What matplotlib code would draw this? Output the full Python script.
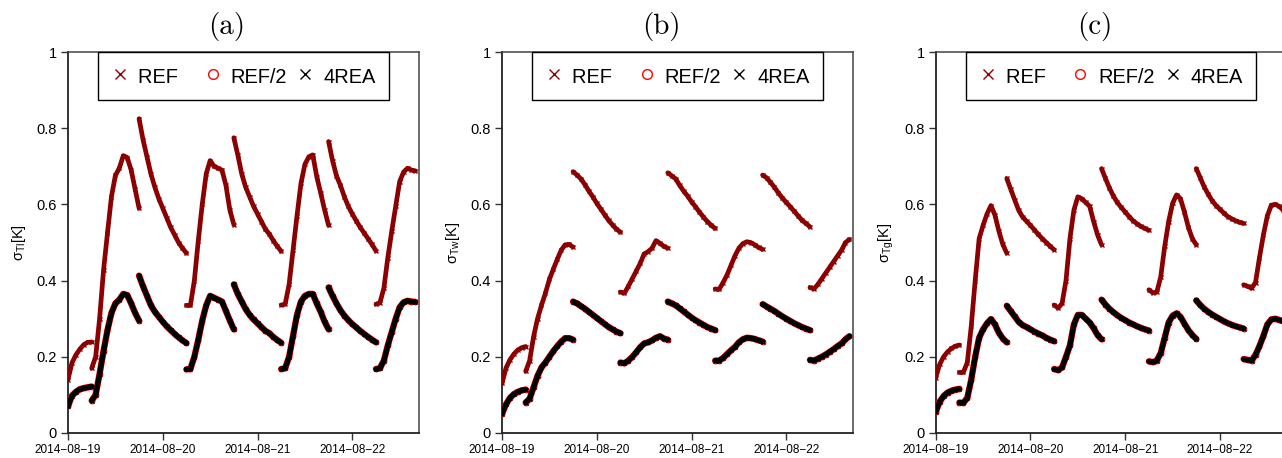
import matplotlib
matplotlib.use("Agg")
import matplotlib.pyplot as plt
import numpy as np
from matplotlib.lines import Line2D

plt.rcParams["font.family"] = ["Liberation Sans", "DejaVu Sans"]
plt.rcParams["mathtext.fontset"] = "custom"
plt.rcParams["mathtext.rm"] = "Liberation Sans"
plt.rcParams["mathtext.it"] = "Liberation Sans:italic"

# assimilation windows: start hour (from 2014-08-19 00 UTC), hourly values inside
seg_start_hours = [0, 6, 18, 30, 42, 54, 66, 78]
day_ticks = [0, 24, 48, 72]
day_labels = ["2014\u221208\u221219", "2014\u221208\u221220", "2014\u221208\u221221", "2014\u221208\u221222"]
y_ticks = [0, 0.2, 0.4, 0.6, 0.8, 1.0]
y_labels = ["0", "0.2", "0.4", "0.6", "0.8", "1"]
panel_titles = ["(a)", "(b)", "(c)"]
panel_ylabels = ["Tl", "Tw", "Tg"]
legend_labels = ["REF   ", "REF/2", "4REA"]

tl_ref = [
    [0.14, 0.184, 0.205, 0.22, 0.232, 0.238, 0.239],
    [0.17, 0.20, 0.30, 0.427, 0.525, 0.62, 0.676, 0.695, 0.728, 0.723, 0.69, 0.64, 0.59],
    [0.825, 0.77, 0.725, 0.68, 0.645, 0.615, 0.59, 0.565, 0.54, 0.52, 0.50, 0.485, 0.472],
    [0.335, 0.335, 0.40, 0.505, 0.60, 0.68, 0.715, 0.70, 0.695, 0.69, 0.65, 0.585, 0.547],
    [0.775, 0.73, 0.68, 0.645, 0.62, 0.595, 0.575, 0.555, 0.535, 0.522, 0.505, 0.49, 0.477],
    [0.336, 0.338, 0.39, 0.48, 0.57, 0.655, 0.705, 0.725, 0.73, 0.673, 0.63, 0.585, 0.545],
    [0.765, 0.715, 0.675, 0.65, 0.62, 0.595, 0.575, 0.557, 0.54, 0.525, 0.51, 0.495, 0.478],
    [0.338, 0.342, 0.38, 0.46, 0.53, 0.595, 0.66, 0.685, 0.695, 0.69, 0.688],
]
tl_half = [
    [0.07, 0.098, 0.108, 0.115, 0.118, 0.12, 0.122],
    [0.085, 0.10, 0.155, 0.215, 0.27, 0.315, 0.34, 0.35, 0.365, 0.362, 0.34, 0.315, 0.295],
    [0.413, 0.385, 0.36, 0.335, 0.318, 0.305, 0.292, 0.28, 0.27, 0.26, 0.251, 0.243, 0.236],
    [0.167, 0.168, 0.20, 0.245, 0.295, 0.335, 0.36, 0.355, 0.35, 0.345, 0.32, 0.295, 0.272],
    [0.39, 0.365, 0.345, 0.325, 0.31, 0.298, 0.288, 0.278, 0.268, 0.262, 0.252, 0.244, 0.237],
    [0.168, 0.17, 0.2, 0.255, 0.31, 0.345, 0.36, 0.365, 0.365, 0.34, 0.318, 0.292, 0.272],
    [0.382, 0.36, 0.34, 0.322, 0.308, 0.296, 0.286, 0.277, 0.268, 0.26, 0.252, 0.245, 0.238],
    [0.168, 0.17, 0.19, 0.23, 0.265, 0.3, 0.33, 0.343, 0.347, 0.345, 0.344],
]

tw_ref = [
    [0.13, 0.17, 0.192, 0.207, 0.218, 0.224, 0.227],
    [0.162, 0.19, 0.253, 0.30, 0.335, 0.367, 0.403, 0.43, 0.456, 0.48, 0.494, 0.495, 0.488],
    [0.686, 0.677, 0.667, 0.652, 0.635, 0.62, 0.603, 0.588, 0.573, 0.558, 0.546, 0.535, 0.527],
    [0.37, 0.367, 0.385, 0.405, 0.425, 0.445, 0.47, 0.476, 0.485, 0.505, 0.498, 0.49, 0.485],
    [0.683, 0.675, 0.667, 0.65, 0.635, 0.622, 0.607, 0.594, 0.58, 0.567, 0.555, 0.545, 0.537],
    [0.378, 0.377, 0.395, 0.415, 0.44, 0.465, 0.485, 0.497, 0.502, 0.5, 0.494, 0.487, 0.482],
    [0.677, 0.67, 0.658, 0.645, 0.63, 0.617, 0.605, 0.594, 0.582, 0.57, 0.558, 0.55, 0.541],
    [0.382, 0.378, 0.39, 0.405, 0.42, 0.435, 0.45, 0.465, 0.48, 0.5, 0.508],
]
tw_half = [
    [0.05, 0.075, 0.092, 0.102, 0.108, 0.112, 0.114],
    [0.08, 0.09, 0.12, 0.15, 0.172, 0.185, 0.2, 0.215, 0.228, 0.24, 0.249, 0.249, 0.245],
    [0.345, 0.34, 0.333, 0.326, 0.318, 0.31, 0.302, 0.294, 0.286, 0.278, 0.272, 0.266, 0.262],
    [0.185, 0.183, 0.19, 0.2, 0.212, 0.225, 0.235, 0.238, 0.243, 0.25, 0.254, 0.248, 0.245],
    [0.345, 0.34, 0.335, 0.327, 0.319, 0.311, 0.303, 0.296, 0.29, 0.284, 0.278, 0.274, 0.27],
    [0.19, 0.19, 0.197, 0.207, 0.217, 0.226, 0.238, 0.246, 0.25, 0.249, 0.247, 0.243, 0.24],
    [0.338, 0.332, 0.326, 0.32, 0.313, 0.306, 0.3, 0.294, 0.288, 0.283, 0.278, 0.274, 0.27],
    [0.192, 0.19, 0.195, 0.2, 0.206, 0.213, 0.22, 0.228, 0.235, 0.246, 0.254],
]

tg_ref = [
    [0.145, 0.18, 0.2, 0.213, 0.222, 0.228, 0.231],
    [0.159, 0.159, 0.185, 0.28, 0.4, 0.51, 0.545, 0.575, 0.597, 0.572, 0.53, 0.495, 0.472],
    [0.668, 0.64, 0.612, 0.585, 0.567, 0.556, 0.545, 0.533, 0.521, 0.51, 0.5, 0.49, 0.481],
    [0.336, 0.328, 0.34, 0.4, 0.51, 0.585, 0.62, 0.615, 0.605, 0.595, 0.555, 0.52, 0.494],
    [0.694, 0.668, 0.643, 0.622, 0.605, 0.592, 0.58, 0.568, 0.557, 0.549, 0.542, 0.537, 0.532],
    [0.376, 0.368, 0.37, 0.41, 0.49, 0.555, 0.603, 0.625, 0.615, 0.58, 0.54, 0.51, 0.494],
    [0.694, 0.67, 0.646, 0.627, 0.61, 0.597, 0.587, 0.577, 0.568, 0.562, 0.557, 0.553, 0.55],
    [0.389, 0.385, 0.38, 0.395, 0.46, 0.52, 0.57, 0.598, 0.6, 0.595, 0.585],
]
tg_half = [
    [0.055, 0.082, 0.097, 0.106, 0.111, 0.114, 0.116],
    [0.08, 0.079, 0.092, 0.14, 0.2, 0.25, 0.272, 0.288, 0.299, 0.285, 0.263, 0.248, 0.238],
    [0.334, 0.32, 0.306, 0.292, 0.283, 0.278, 0.272, 0.266, 0.261, 0.256, 0.25, 0.245, 0.241],
    [0.168, 0.165, 0.172, 0.2, 0.23, 0.285, 0.31, 0.31, 0.3, 0.29, 0.275, 0.257, 0.246],
    [0.35, 0.337, 0.326, 0.317, 0.309, 0.302, 0.296, 0.29, 0.285, 0.28, 0.276, 0.272, 0.269],
    [0.188, 0.186, 0.19, 0.21, 0.25, 0.29, 0.308, 0.314, 0.305, 0.287, 0.27, 0.257, 0.247],
    [0.348, 0.336, 0.326, 0.318, 0.311, 0.305, 0.299, 0.293, 0.288, 0.284, 0.28, 0.277, 0.274],
    [0.194, 0.192, 0.19, 0.205, 0.228, 0.255, 0.285, 0.298, 0.3, 0.297, 0.293],
]

panels = [(tl_ref, tl_half), (tw_ref, tw_half), (tg_ref, tg_half)]

REF_COLOR = "#8b0000"
HALF_COLOR = "#ff0000"
REA_COLOR = "black"

W, H = 1282, 458
fig = plt.figure(figsize=(W / 100, H / 100), dpi=100)
fig.patch.set_facecolor("white")

ax_lefts = [68, 502, 935.7]
for i, (ref, half) in enumerate(panels):
    ax = fig.add_axes([ax_lefts[i] / W, 25 / H, 351 / W, 381 / H])

    for start, r_vals, h_vals in zip(seg_start_hours, ref, half):
        t_r = start + np.arange(len(r_vals))
        t_h = start + np.arange(len(h_vals))
        ax.plot(t_r, r_vals, color=REF_COLOR, lw=3.4, marker="x", ms=3.0, mew=1.0,
                solid_capstyle="round", zorder=3)
        ax.plot(t_h, h_vals, color=HALF_COLOR, lw=4.6, marker="o", ms=3.5, mfc="none",
                mew=0.7, solid_capstyle="round", zorder=4)
        ax.plot(t_h, h_vals, color=REA_COLOR, lw=3.8, marker="x", ms=3.0, mew=1.0,
                solid_capstyle="round", zorder=5)

    ax.set_xlim(0, 88.9)
    ax.set_ylim(0, 1)
    ax.set_xticks(day_ticks)
    ax.set_xticklabels(day_labels)
    ax.set_yticks(y_ticks)
    ax.set_yticklabels(y_labels)
    ax.tick_params(direction="out", length=5, width=1.0, color="#333333", pad=3)
    ax.tick_params(axis="y", labelsize=10.5)
    ax.tick_params(axis="x", labelsize=8.5)
    for side in ["left", "bottom"]:
        ax.spines[side].set_linewidth(1.3)
        ax.spines[side].set_color("#222222")
    for side in ["top", "right"]:
        ax.spines[side].set_linewidth(1.1)
        ax.spines[side].set_color("#444444")

    ax.set_ylabel("\u03c3$_{\\mathrm{" + panel_ylabels[i] + "}}$[K]", fontsize=10.5, labelpad=6)
    ax.text(0.453, 1.066, panel_titles[i], transform=ax.transAxes, ha="center",
            va="center", fontfamily="cmr10", fontsize=21)

    handles = [
        Line2D([], [], ls="none", marker="x", color=REF_COLOR, ms=7, mew=1.0),
        Line2D([], [], ls="none", marker="o", mfc="none", mec=HALF_COLOR, ms=7, mew=1.0),
        Line2D([], [], ls="none", marker="x", color=REA_COLOR, ms=7, mew=1.0),
    ]
    leg = ax.legend(handles, legend_labels, loc="upper left",
                    bbox_to_anchor=(30 / 351, 1.0), borderaxespad=0, ncol=3,
                    fontsize=14.4, frameon=True, fancybox=False, edgecolor="black",
                    framealpha=1, handlelength=0.9, handletextpad=0.45,
                    handleheight=1.3, columnspacing=0.45, borderpad=0.66)
    leg.get_frame().set_linewidth(1.0)
    leg.set_zorder(10)

fig.savefig("out.png", dpi=100, facecolor="white")
